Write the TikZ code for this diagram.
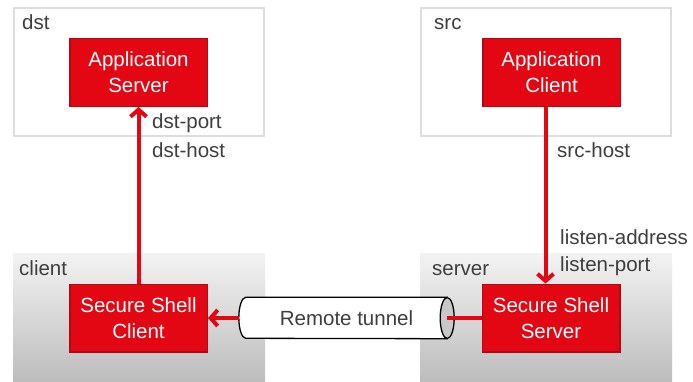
\documentclass[tikz,border=0pt]{standalone}
\usepackage{fontspec}
\setmainfont{Liberation Sans}
\usetikzlibrary{arrows.meta,positioning}
\definecolor{sshred}{RGB}{227,6,19}
\definecolor{sshedge}{RGB}{180,8,18}
\definecolor{frameline}{RGB}{221,221,221}
\definecolor{shadetop}{RGB}{243,243,243}
\definecolor{shadebot}{RGB}{189,189,189}
\definecolor{capgray}{RGB}{200,200,200}
\definecolor{labelgray}{RGB}{62,62,62}
\newcommand\txtsize{\fontsize{20.5}{26}\selectfont}

\begin{document}
\begin{tikzpicture}[x=1pt,y=1pt,
        link/.style={draw=sshred,line width=4pt},
        redtip/.style={-{Straight Barb[length=7pt,width=16pt]}}]%
        \useasboundingbox (0,0) rectangle (693,381);%%
        % host frames
        \begin{scope}[inner sep=0pt]
        \tikzstyle{every node}=[draw=frameline,line width=2pt,fill=white,minimum width=250,minimum height=128] %%
        \node (dstbox) at (139,309)  {}; %%
        \node (srcbox) at (546,309)  {}; %%
        \end{scope}%
        \begin{scope}[inner sep=0pt]
        \tikzstyle{every node}=[top color=shadetop,bottom color=shadebot,minimum width=252,minimum height=128] %%
        \node (clientbox) at (139,64)  {}; %%
        \node (serverbox) at (546,64)  {}; %%
        \end{scope}
        % red boxes
        \begin{scope}[inner sep=0pt]
        \tikzstyle{every node}=[draw=sshedge,line width=1.5pt,fill=sshred,text=white,align=center,font=\txtsize,minimum width=137.5,minimum height=67.5] %%
        \node (appsrv) at (138.5,308.5)  {Application\\Server}; %%
        \node (appcli) at (551.5,308.5)  {Application\\Client}; %%
        \node (sshcli) at (138.5,63)  {Secure Shell\\Client}; %%
        \node (sshsrv) at (551,63)  {Secure Shell\\Server}; %%
        \end{scope}
        % tunnel
        \node[inner sep=0pt,minimum width=215,minimum height=41] (tubearea) at (346.5,63)  {}; %%
        \coordinate (cap) at ([xshift=-7pt]tubearea.east); %%
        \draw[line width=1.3pt,fill=white] ([xshift=-7pt]tubearea.north east) -- ([xshift=7pt]tubearea.north west)
              arc[start angle=90,end angle=270,x radius=7pt,y radius=20.5pt] -- ([xshift=-7pt]tubearea.south east) -- cycle; %%
        \draw[line width=1.3pt,fill=capgray] (cap) ellipse[x radius=7pt,y radius=20.5pt]; %%
        \node[inner sep=0pt,font=\txtsize,text=labelgray] (tunnel) at (tubearea.center) {Remote tunnel}; %%
        % labels
        \begin{scope}[inner sep=0pt]
        \tikzstyle{every node}=[anchor=base west,text=labelgray,font=\txtsize] %%
        \node (dstlbl) at (22,351)  {dst}; %%
        \node (srclbl) at (434,351)  {src}; %%
        \node (clientlbl) at (19,106)  {client}; %%
        \node (serverlbl) at (432,106)  {server}; %%
        \node (dstport) at (152,253)  {dst-port}; %%
        \node (dsthost) at (152,224)  {dst-host}; %%
        \node (srchost) at (557,224)  {src-host}; %%
        \node (listenaddr) at (560,137)  {listen-address}; %%
        \node (listenport) at (560,110)  {listen-port}; %%
        \end{scope}
        % connectors
        \draw[link,redtip] (sshcli) -- (appsrv); %%
        \draw[link,redtip] ([xshift=-6pt]appcli.south) -- ([xshift=-5.5pt]sshsrv.north); %%
        \draw[link,redtip] (tubearea.west) -- (sshcli.east); %%
        \draw[link] (sshsrv.west) -- (cap); %%
        \end{tikzpicture}
\end{document}
